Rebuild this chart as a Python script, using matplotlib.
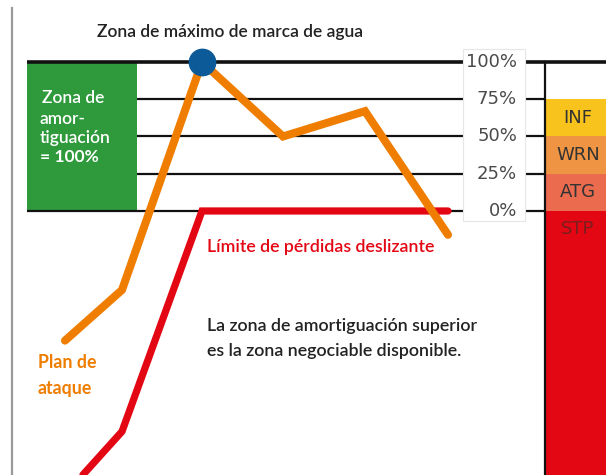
import matplotlib
matplotlib.use("Agg")
import matplotlib.pyplot as plt
from matplotlib.patches import Rectangle

# ---- data (x in time units, y in % of buffer zone) ----
plan_x = [65, 122, 202, 283, 365, 448]
plan_y = [-87, -53, 100, 50, 67, -16]
stop_x = [83, 122, 202, 448]
stop_y = [-177, -148, 0, 0]
peak_x = [202]
peak_y = [100]
grid_levels = [0, 25, 50, 75, 100]
grid_labels = ["0%", "25%", "50%", "75%", "100%"]
zone_names = ["ATG", "WRN", "INF"]
zone_lo = [0, 25, 50]
zone_hi = [25, 50, 75]
zone_colors = ["#EA6B4E", "#EE9442", "#F7C31C"]

ORANGE = "#EF7D00"
RED = "#E30613"
GREEN = "#2E9A3C"
BLUE = "#0C5A97"

YB, YT = -177.2, 141.6
fig = plt.figure(figsize=(6.06, 4.75), dpi=100)
ax = fig.add_axes([0, 0, 1, 1])
ax.set_xlim(0, 606)
ax.set_ylim(YB, YT)
ax.axis("off")

font_main = ["Lato", "DejaVu Sans"]
font_narrow = ["Liberation Sans Narrow", "DejaVu Sans"]
W = "semibold"

# left frame line
ax.plot([12, 12], [YB, 136], color="#9a9a9a", lw=1.6, zorder=1)

# green buffer zone
ax.add_patch(Rectangle((27, 0), 110, 100, facecolor=GREEN, edgecolor="none", zorder=2))
ax.text(42, 76, "Zona de", color="white", fontsize=12.5, family=font_main,
        fontweight=W, va="center", ha="left", zorder=5)
ax.text(40, 62, "amor-", color="white", fontsize=12.5, family=font_main,
        fontweight=W, va="center", ha="left", zorder=5)
ax.text(40, 49, "tiguación", color="white", fontsize=12.5, family=font_main,
        fontweight=W, va="center", ha="left", zorder=5)
ax.text(40, 36, "= 100%", color="white", fontsize=12.5, fontweight="bold",
        family=font_main, va="center", ha="left", zorder=5)

# grid lines
for lev in grid_levels:
    x0 = 27 if lev in (0, 100) else 137
    lw = 2.6 if lev == 100 else 1.6
    ax.plot([x0, 463], [lev, lev], color="#111111", lw=lw, zorder=3, solid_capstyle="butt")
    x1 = 606 if lev == 100 else 545
    ax.plot([525, x1], [lev, lev], color="#111111", lw=lw, zorder=3, solid_capstyle="butt")

# label box
ax.add_patch(Rectangle((463, -7), 62, 116, facecolor="white", edgecolor="#e6e6e6", lw=0.8, zorder=4))
for lev, lab in zip(grid_levels, grid_labels):
    ax.text(517, lev, lab, ha="right", va="center", fontsize=13, color="#4a4a4a",
            family=font_narrow, zorder=5)

# right status column
for lo, hi, c, name in zip(zone_lo, zone_hi, zone_colors, zone_names):
    ax.add_patch(Rectangle((545, lo), 61, hi - lo, facecolor=c, edgecolor="none", zorder=2))
    ax.text(578, (lo + hi) / 2, name, ha="center", va="center", fontsize=13,
            color="#333333", family=font_narrow, zorder=5)
ax.add_patch(Rectangle((545, YB), 61, -YB, facecolor=RED, edgecolor="none", zorder=2))
ax.text(578, -12, "STP", ha="center", va="center", fontsize=13, color="#7a1e1e",
        family=font_narrow, zorder=5)
ax.plot([545, 545], [YB, 100], color="#111111", lw=1.6, zorder=3)

# lines
ax.plot(stop_x, stop_y, color=RED, lw=5.2, solid_capstyle="round", solid_joinstyle="miter", zorder=6)
ax.plot(plan_x, plan_y, color=ORANGE, lw=5.8, solid_capstyle="round", solid_joinstyle="miter", zorder=7)
ax.plot(peak_x, peak_y, "o", color=BLUE, markersize=19, zorder=8)

# annotations
ax.text(230, 120, "Zona de máximo de marca de agua", ha="center", va="center",
        fontsize=12.5, color="#222222", family=font_main, fontweight=W, zorder=5)
ax.text(207, -24, "Límite de pérdidas deslizante", ha="left", va="center",
        fontsize=12.8, color=RED, family=font_main, fontweight=W, zorder=5)
ax.text(207, -77, "La zona de amortiguación superior", ha="left", va="center",
        fontsize=12.8, color="#222222", family=font_main, fontweight=W, zorder=5)
ax.text(207, -94, "es la zona negociable disponible.", ha="left", va="center",
        fontsize=12.8, color="#222222", family=font_main, fontweight=W, zorder=5)
ax.text(38, -102, "Plan de", ha="left", va="center", fontsize=12.8, color=ORANGE,
        fontweight="bold", family=font_main, zorder=5)
ax.text(38, -119, "ataque", ha="left", va="center", fontsize=12.8, color=ORANGE,
        fontweight="bold", family=font_main, zorder=5)

fig.savefig("out.png", dpi=100)
